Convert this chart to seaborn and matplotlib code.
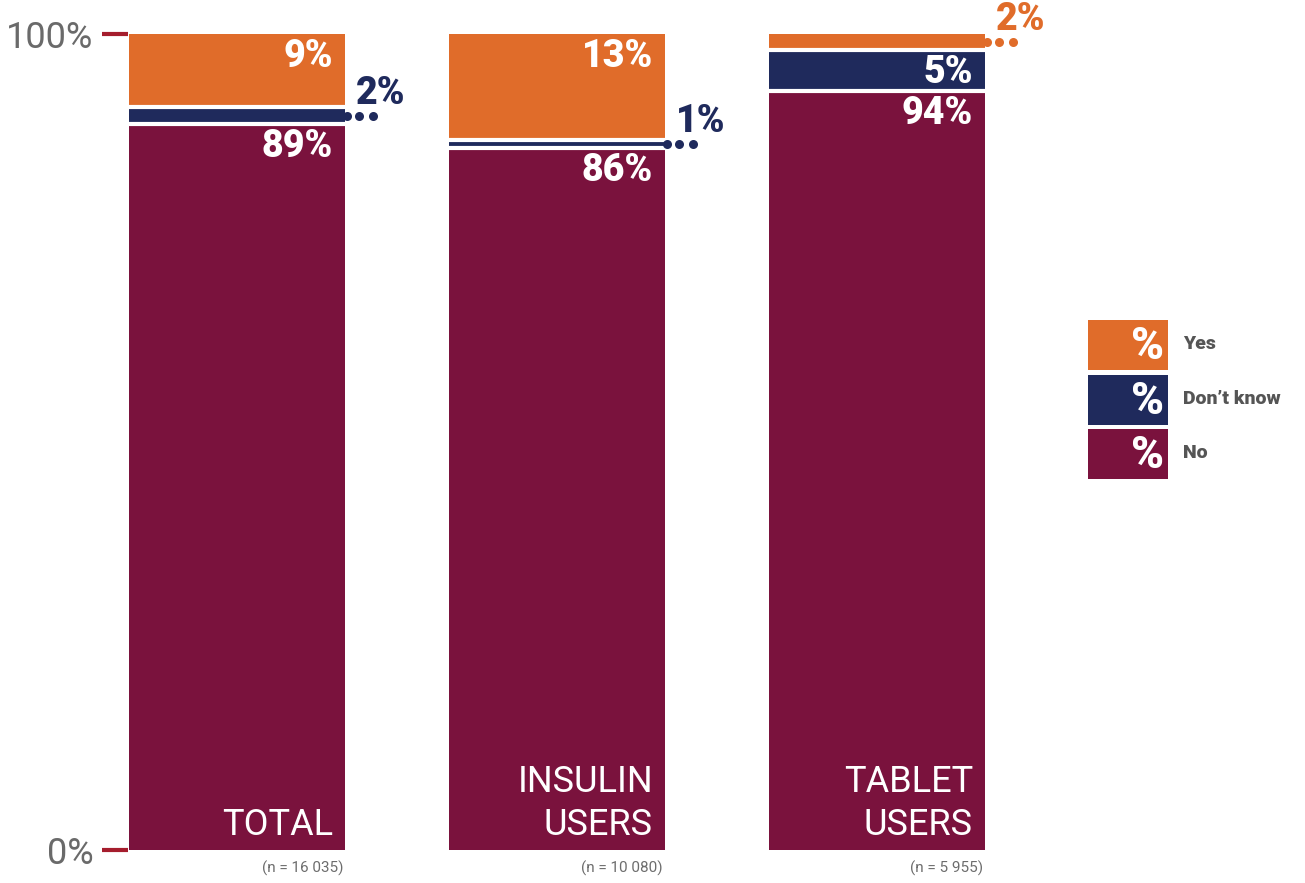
import numpy as np
import pandas as pd
import matplotlib
matplotlib.use("Agg")
import matplotlib.pyplot as plt
import seaborn as sns
from matplotlib.patches import Rectangle

# data
groups = ["TOTAL", "INSULIN\nUSERS", "TABLET\nUSERS"]
n_labels = ["(n = 16 035)", "(n = 10 080)", "(n = 5 955)"]
yes = [9, 13, 2]
dont_know = [2, 1, 5]
no = [89, 86, 94]
answers = ["Yes", "Don\u2019t know", "No"]
colors = {"Yes": "#E06C2A", "Don\u2019t know": "#1F2A5C", "No": "#7A123D"}

sns.set_style("white")
plt.rcParams["font.family"] = ["Roboto", "DejaVu Sans"]

# stacked from the top: Yes, then Don't know, No fills the rest
df = pd.DataFrame({"group": groups, "yes": yes, "dk": dont_know, "no": no})
df["yes_top"] = 100
df["dk_top"] = 100 - df["yes"]
df["no_top"] = 100 - df["yes"] - df["dk"]

W, H = 1305, 883
fig = plt.figure(figsize=(W / 100, H / 100), dpi=100)
ax = fig.add_axes([128 / W, 1 - 850 / H, 932 / W, 816 / H])

px = 1 / 320  # one pixel in x data units
py = 100 / 816  # one pixel in y data units
bw = 0.675

for col, name in [("yes_top", "Yes"), ("dk_top", "Don\u2019t know"), ("no_top", "No")]:
    sns.barplot(data=df, x="group", y=col, color=colors[name], width=bw,
                saturation=1, linewidth=0, ax=ax)

# white separators between segments
for i in range(len(groups)):
    for yv in [df["dk_top"][i], df["no_top"][i]]:
        ax.hlines(yv, i - bw / 2, i + bw / 2, color="white", lw=3)

def inside(i, y, txt):
    ax.text(i + bw / 2 - 12 * px, y - 4 * py, txt, ha="right", va="top",
            color="white", fontsize=27, fontweight="black")

def outside(i, y, txt, c):
    xs = [i + bw / 2 + k * px for k in (2, 14, 28)]
    ax.plot(xs, [y] * 3, "o", ms=6.5, color=c, mec="none", clip_on=False)
    ax.text(i + bw / 2 + 11 * px, y + 4 * py, txt, ha="left", va="bottom",
            color=c, fontsize=27, fontweight="black", clip_on=False)

for i in range(len(groups)):
    segs = [
        ("Yes", yes[i], df["yes_top"][i], (df["yes_top"][i] + df["dk_top"][i]) / 2),
        ("Don\u2019t know", dont_know[i], df["dk_top"][i], (df["dk_top"][i] + df["no_top"][i]) / 2),
        ("No", no[i], df["no_top"][i], df["no_top"][i] / 2),
    ]
    for name, v, top, mid in segs:
        if v < 3:
            outside(i, mid, f"{v}%", colors[name])
        else:
            inside(i, top, f"{v}%")
    ax.text(i + bw / 2 - 12 * px, 7 * py, groups[i], ha="right", va="bottom",
            color="white", fontsize=26, fontweight="normal", linespacing=1.25)
    ax.text(i + bw / 2 - 2 * px, -18 * py, n_labels[i], ha="right", va="center",
            color="#6d6d6d", fontsize=11, clip_on=False)

ax.set_xlim(-bw / 2 - px, -bw / 2 - px + 932 * px)
ax.set_ylim(0, 100)
ax.set_yticks([0, 100])
ax.set_yticklabels(["0%", "100%"], fontsize=26, color="#6a6a6a", fontweight="normal")
ax.tick_params(axis="y", length=19, width=3, color="#A51D2D", pad=6, left=True)
ax.set_xticks([])
ax.set_xlabel("")
ax.set_ylabel("")
sns.despine(ax=ax, left=True, bottom=True)

# legend
lax = fig.add_axes([1088 / W, 1 - 479 / H, 210 / W, 159 / H])
lax.set_xlim(0, 210)
lax.set_ylim(159, 0)
lax.axis("off")
for k, name in enumerate(answers):
    y0 = k * 54.5
    lax.add_patch(Rectangle((0, y0), 80, 50, color=colors[name], lw=0))
    lax.text(76, y0 + 27, "%", ha="right", va="center", color="white",
             fontsize=32, fontweight="black")
    lax.text(95, y0 + 24, name, ha="left", va="center", color="#555555",
             fontsize=14, fontweight="black")

fig.savefig("out.png", dpi=100)
